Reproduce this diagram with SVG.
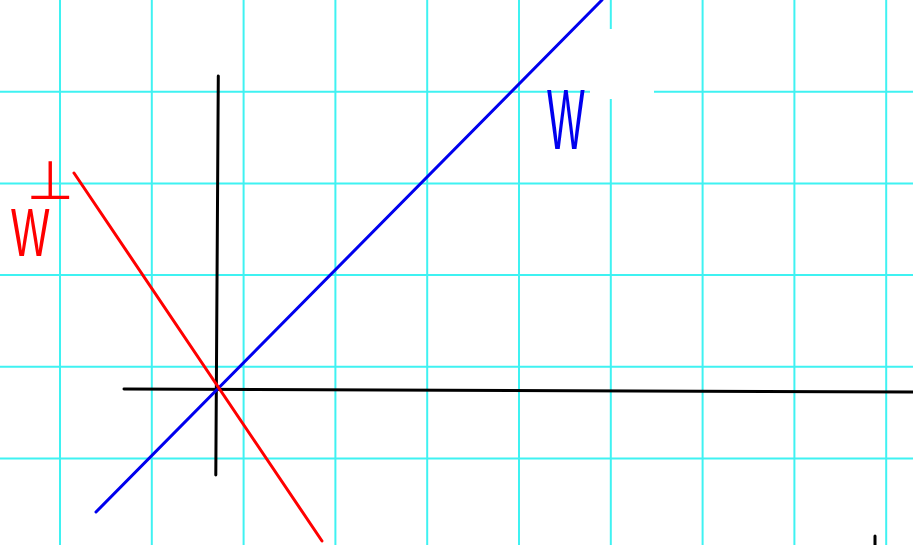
<svg xmlns="http://www.w3.org/2000/svg" width="913" height="545" viewBox="0 0 913 545">
<style>
.grid line{stroke:#3ff2f2;stroke-width:2}
.ink{fill:none;stroke-width:3;stroke-linecap:round}
.lbl{font-family:"Liberation Sans","DejaVu Sans",sans-serif}
</style>
<rect width="913" height="545" fill="#ffffff"/>
<g id="grid" class="grid">
<line x1="60" y1="0" x2="60" y2="545"/>
<line x1="151.8" y1="0" x2="151.8" y2="545"/>
<line x1="243.6" y1="0" x2="243.6" y2="545"/>
<line x1="335.4" y1="0" x2="335.4" y2="545"/>
<line x1="427.2" y1="0" x2="427.2" y2="545"/>
<line x1="519" y1="0" x2="519" y2="545"/>
<line x1="610.8" y1="0" x2="610.8" y2="545"/>
<line x1="702.6" y1="0" x2="702.6" y2="545"/>
<line x1="794.4" y1="0" x2="794.4" y2="545"/>
<line x1="886.2" y1="0" x2="886.2" y2="545"/>
<line x1="0" y1="91.7" x2="913" y2="91.7"/>
<line x1="0" y1="183.4" x2="913" y2="183.4"/>
<line x1="0" y1="275.1" x2="913" y2="275.1"/>
<line x1="0" y1="366.8" x2="913" y2="366.8"/>
<line x1="0" y1="458.6" x2="913" y2="458.6"/>
</g>
<rect id="patch" x="590" y="29" width="64" height="70" fill="#ffffff"/>
<g id="axes" class="ink" stroke="#000000">
<line x1="124" y1="389" x2="913" y2="392"/>
<line x1="218.3" y1="76" x2="215.8" y2="475"/>
<line x1="875" y1="536" x2="875" y2="545"/>
</g>
<g id="vectors" class="ink">
<line id="w-line" x1="96" y1="512" x2="602" y2="0" stroke="#0000ee"/>
<line id="wperp-line" x1="74" y1="173" x2="322" y2="541" stroke="#ff0000"/>
</g>
<g id="label-w">
<text class="lbl" transform="translate(547,149) scale(0.47,1)" font-size="85" fill="#0000ee">W</text>
</g>
<g id="label-wperp">
<text class="lbl" transform="translate(11,256) scale(0.6,1)" font-size="68" fill="#ff0000">W</text>
<text class="lbl" x="50" y="199" font-size="54" text-anchor="middle" fill="#ff0000" font-family="DejaVu Sans, sans-serif">⊥</text>
</g>
</svg>
